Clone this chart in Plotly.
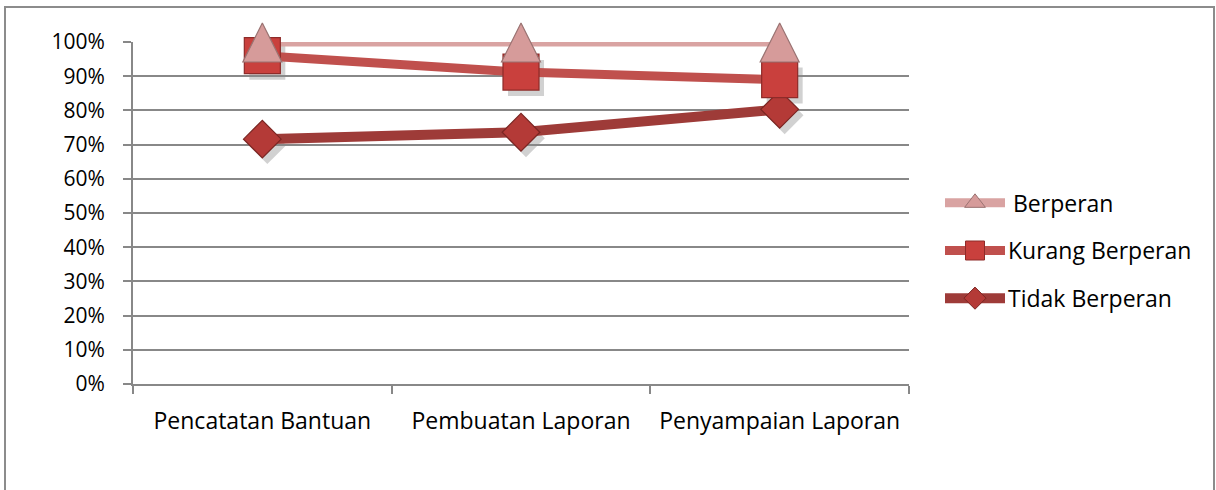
import plotly.graph_objects as go

W, H = 1216, 490

categories = ["Pencatatan Bantuan", "Pembuatan Laporan", "Penyampaian Laporan"]
series_names = ["Berperan", "Kurang Berperan", "Tidak Berperan"]
berperan = [1.00, 1.00, 1.00]
kurang = [0.960, 0.912, 0.890]
tidak = [0.716, 0.736, 0.803]
y_tick_vals = [0, 0.1, 0.2, 0.3, 0.4, 0.5, 0.6, 0.7, 0.8, 0.9, 1.0]
y_tick_text = ["0%", "10%", "20%", "30%", "40%", "50%", "60%", "70%", "80%", "90%", "100%"]

def px(p):
    return p / W

def py(p):
    return 1 - p / H

FONT = "Open Sans"
GRID = "#888888"

styles = {
    "Berperan": dict(line="#D9A3A2", lw=9, sym="arrow-up", size=39, fill="#D69B9A", edge="#9A7372",
                     lsym="triangle-up", lsize=18),
    "Kurang Berperan": dict(line="#C0504D", lw=9, sym="square", size=36, fill="#C9403D", edge="#8E2B29",
                            lsym="square", lsize=19),
    "Tidak Berperan": dict(line="#9E3B38", lw=10, sym="diamond", size=29, fill="#B43A37", edge="#7A2522",
                           lsym="diamond", lsize=17),
}
values = {"Berperan": berperan, "Kurang Berperan": kurang, "Tidak Berperan": tidak}
draw_order = ["Tidak Berperan", "Kurang Berperan", "Berperan"]

fig = go.Figure()

# shadow markers (subplot x/y, offset domain)
for name in ["Tidak Berperan", "Kurang Berperan"]:
    s = styles[name]
    fig.add_trace(go.Scatter(
        x=categories, y=values[name], mode="markers", xaxis="x", yaxis="y",
        marker=dict(symbol=s["sym"], size=s["size"], color="rgba(0,0,0,0.18)", line=dict(width=0)),
        showlegend=False, hoverinfo="skip", cliponaxis=False))

# legend drawn in subplot x2/y2
for i, name in enumerate(series_names):
    s = styles[name]
    fig.add_trace(go.Scatter(
        x=[0, 1], y=[i, i], mode="lines", xaxis="x2", yaxis="y2",
        line=dict(color=s["line"], width=s["lw"]), showlegend=False, hoverinfo="skip", cliponaxis=False))
    fig.add_trace(go.Scatter(
        x=[0.5], y=[i], mode="markers", xaxis="x2", yaxis="y2",
        marker=dict(symbol=s["lsym"], size=s["lsize"], color=s["fill"], line=dict(color=s["edge"], width=1)),
        showlegend=False, hoverinfo="skip", cliponaxis=False))
    fig.add_annotation(x=1, y=i, xref="x2", yref="y2", text=name, showarrow=False,
                       xanchor="left", yanchor="middle", xshift=6 if i == 0 else 1,
                       font=dict(family=FONT, size=23, color="#000000"))

# main lines
for name in draw_order:
    s = styles[name]
    fig.add_trace(go.Scatter(
        x=categories, y=values[name], mode="lines", xaxis="x3", yaxis="y3",
        line=dict(color=s["line"], width=s["lw"]), showlegend=False, hoverinfo="skip", cliponaxis=False))
# main markers (square, diamond)
for name in ["Tidak Berperan", "Kurang Berperan"]:
    s = styles[name]
    fig.add_trace(go.Scatter(
        x=categories, y=values[name], mode="markers", xaxis="x3", yaxis="y3", name=name,
        marker=dict(symbol=s["sym"], size=s["size"], color=s["fill"], line=dict(color=s["edge"], width=1.2)),
        showlegend=False, cliponaxis=False))
# triangle markers: tip-anchored arrow on a subplot raised so the triangle is centred on the value
s = styles["Berperan"]
fig.add_trace(go.Scatter(
    x=categories, y=berperan, mode="markers", xaxis="x4", yaxis="y4", name="Berperan",
    marker=dict(symbol=s["sym"], size=s["size"], color=s["fill"], line=dict(color=s["edge"], width=1.2)),
    showlegend=False, cliponaxis=False))

x0, x1, ytop, ybot = 133, 909, 42, 384
dx, dy = 5, 6
tri_up = 19

fig.update_layout(
    template="none",
    width=W, height=H,
    margin=dict(l=0, r=0, t=0, b=0, pad=0, autoexpand=False),
    paper_bgcolor="white", plot_bgcolor="rgba(0,0,0,0)",
    font=dict(family=FONT, size=21, color="#000000"),
    showlegend=False,
    xaxis=dict(domain=[px(x0 + dx), px(x1 + dx)], type="category", range=[-0.5, 2.5],
               visible=False, anchor="y", automargin=False),
    yaxis=dict(domain=[py(ybot + dy), py(ytop + dy)], range=[0, 1], visible=False, anchor="x",
               automargin=False),
    xaxis2=dict(domain=[px(945), px(1005)], range=[0, 1], visible=False, anchor="y2", automargin=False),
    yaxis2=dict(domain=[py(322), py(179)], range=[2.5, -0.5], visible=False, anchor="x2", automargin=False),
    xaxis3=dict(domain=[px(x0), px(x1)], type="category", range=[-0.5, 2.5], anchor="y3",
                automargin=False,
                showgrid=False, showline=True, linecolor=GRID, linewidth=2,
                ticks="outside", tickson="boundaries", ticklen=8, tickcolor=GRID, tickwidth=2,
                ticklabelstandoff=15, tickfont=dict(family=FONT, size=23, color="#000000")),
    yaxis3=dict(domain=[py(ybot), py(ytop)], range=[0, 1.0], anchor="x3",
                automargin=False,
                tickvals=y_tick_vals, ticktext=y_tick_text,
                showgrid=True, gridcolor=GRID, gridwidth=2, zeroline=False,
                showline=True, linecolor=GRID, linewidth=2,
                ticks="outside", ticklen=8, tickcolor=GRID, tickwidth=2,
                ticklabelstandoff=14, tickfont=dict(family=FONT, size=21, color="#000000")),
    xaxis4=dict(domain=[px(x0), px(x1)], type="category", range=[-0.5, 2.5],
                visible=False, anchor="y4", automargin=False),
    yaxis4=dict(domain=[py(ybot + tri_up), py(ytop - tri_up)],
                range=[0, 1], visible=False, anchor="x4", automargin=False),
    shapes=[dict(type="rect", xref="paper", yref="paper", x0=px(5), x1=px(1214), y0=-0.1, y1=py(7),
                 line=dict(color="#8C8C8C", width=2), fillcolor="rgba(0,0,0,0)", layer="below")],
)

fig.write_html("out.html", config={"displayModeBar": False},
               post_script="document.body.style.margin='0';")
